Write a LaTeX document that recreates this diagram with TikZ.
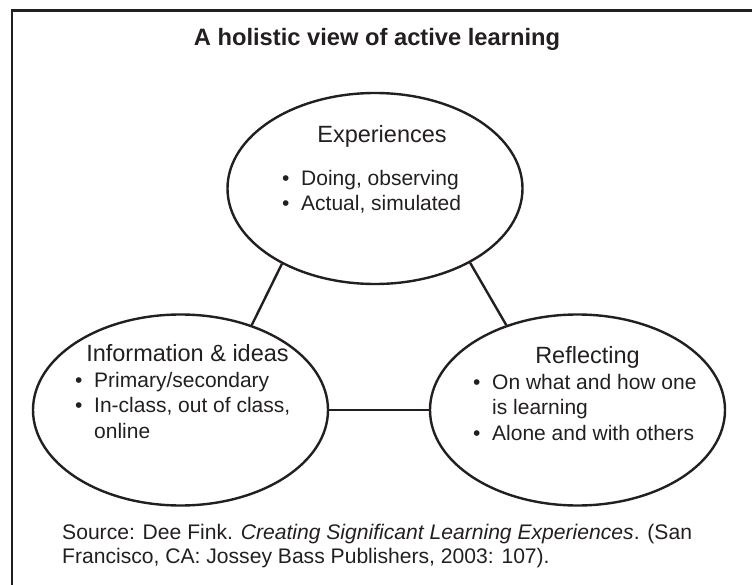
\documentclass[tikz,border=0pt]{standalone}
\usepackage{fontspec}
\setmainfont{Liberation Sans}
\usepackage{xcolor}
\usetikzlibrary{shapes.geometric,positioning}

\definecolor{ink}{RGB}{35,31,32}
\newcommand{\bulletmark}{\makebox[19pt][l]{\textbullet}}

\begin{document}
\begin{tikzpicture}[x=1pt, y=-1pt,
        bubble/.style={ellipse, draw=ink, line width=2.4pt, minimum width=295pt, minimum height=191pt, inner sep=0pt},
        heading/.style={anchor=base, inner sep=0pt, text=ink, font=\fontsize{23.5}{28}\selectfont},
        points/.style={anchor=base west, align=left, inner sep=0pt, text=ink, font=\fontsize{21}{25.5}\selectfont},
        link/.style={draw=ink, line width=2.4pt},
        frame/.style={draw=ink, line width=2.6pt}
    ]
    \useasboundingbox (0,0) rectangle (752,585);
    \clip (0,0) rectangle (752,585);

    % Frame (only top and left edges show)
    \draw[frame] (770,10.5) -| (12,600);

    % Title
    \node[anchor=base, inner sep=0pt, text=ink, font=\fontsize{23.7}{28}\selectfont\bfseries] (title) at (377,46) {A holistic view of active learning};

    % Experiences
    \node[bubble] (exp) at (375,188.5) {};
    \node[heading] (exphead) at (382,143) {Experiences};
    \node[points] (explist) at (282,211) {\bulletmark Doing, observing\\\bulletmark Actual, simulated};

    % Information & ideas
    \node[bubble] (info) at (180.5,410) {};
    \node[heading] (infohead) at (187.5,361) {Information \& ideas};
    \node[points] (infolist) at (75,438) {\bulletmark Primary/secondary\\\bulletmark In-class, out of class,\\\hspace*{19pt}online};

    % Reflecting
    \node[bubble] (refl) at (577.5,410) {};
    \node[heading] (reflhead) at (587.5,363) {Reflecting};
    \node[points] (refllist) at (473,440) {\bulletmark On what and how one\\\hspace*{19pt}is learning\\\bulletmark Alone and with others};

    % Links between the three
    \draw[link] (exp.219) -- (info.50);
    \draw[link] (exp.322) -- (refl.130);
    \draw[link] (info.east) -- (refl.west);

    % Source
    \node[anchor=base west, align=left, inner sep=0pt, text=ink, font=\fontsize{21.1}{24}\selectfont] (source) at (62,563) {Source: Dee Fink. \textit{Creating Significant Learning Experiences}. (San\\Francisco, CA: Jossey Bass Publishers, 2003: 107).};

\end{tikzpicture}
\end{document}
